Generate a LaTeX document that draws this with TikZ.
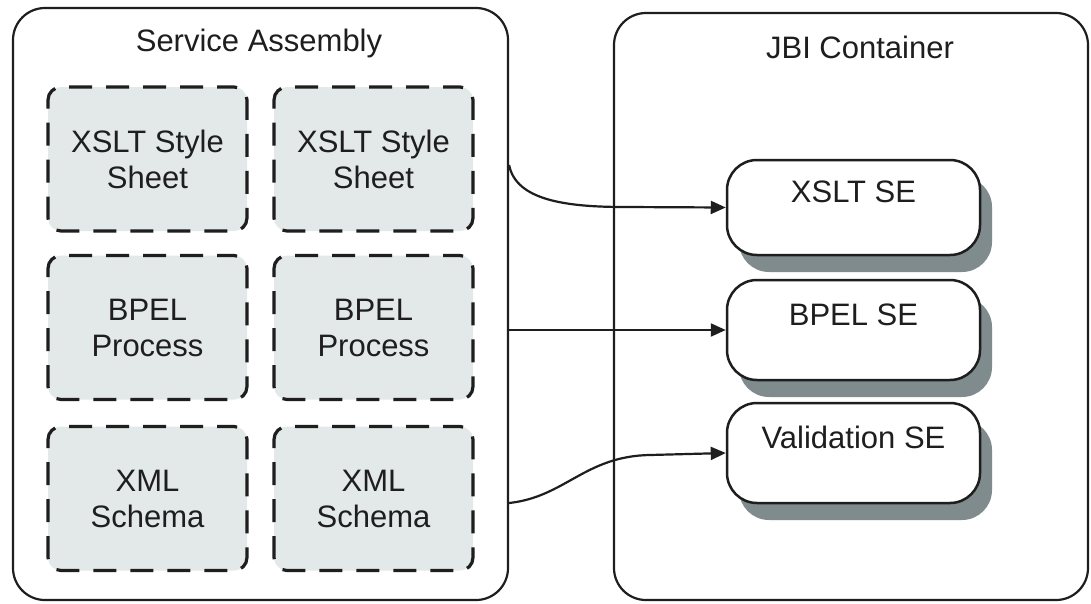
\documentclass[tikz,border=0pt]{standalone}
\usepackage{fontspec}
\setmainfont{Liberation Sans}
\usetikzlibrary{arrows.meta,shadows}
\definecolor{ink}{HTML}{1E1E1E}
\definecolor{boxfill}{HTML}{E3E8E9}
\definecolor{shadowc}{HTML}{7F8B8C}
\tikzset{
  container/.style={draw=ink, line width=2.2pt, rounded corners=32pt, fill=white},
  title/.style={font=\fontsize{31}{36}\selectfont, text=ink},
  artifact/.style={draw=ink, line width=3.2pt, dash pattern=on 23pt off 14pt, dash phase=6pt,
    rounded corners=13pt, fill=boxfill, minimum width=199pt, minimum height=144pt,
    align=center, font=\fontsize{31}{36}\selectfont, text=ink},
  engine/.style={draw=ink, line width=2.5pt, rounded corners=30pt, fill=white,
    minimum width=253pt, minimum height=98pt, text height=22pt, text depth=32pt,
    font=\fontsize{31}{36}\selectfont, text=ink,
    drop shadow={shadow xshift=12pt, shadow yshift=-17pt, fill=shadowc, opacity=1}},
  link/.style={draw=ink, line width=2.2pt, -{Triangle[length=15pt,width=13pt]}},
}
\begin{document}
\begin{tikzpicture}[x=1pt,y=-1pt]
\useasboundingbox (0,0) rectangle (1091,603);
\fill[white] (0,0) rectangle (1091,603);
% containers
\node[container, minimum width=495pt, minimum height=592pt] (sa) at (260.5,304) {};
\node[title] (satitle) at (259,43) {Service Assembly};
\node[container, minimum width=474pt, minimum height=587pt] (jbi) at (851,306.5) {};
\node[title] (jbititle) at (860,47) {JBI Container};
% service assembly artifacts
\node[artifact] (x1) at (147.5,159) {XSLT Style\\Sheet};
\node[artifact] (x2) at (373.5,159) {XSLT Style\\Sheet};
\node[artifact] (b1) at (147.5,327.5) {BPEL\\Process};
\node[artifact] (b2) at (373.5,327.5) {BPEL\\Process};
\node[artifact] (m1) at (147.5,498.5) {XML\\Schema};
\node[artifact] (m2) at (373.5,498.5) {XML\\Schema};
% service engines
\node[engine, minimum height=95pt] (xse) at (853.5,207.5) {XSLT SE};
\node[engine, minimum height=100pt] (bse) at (853.5,330) {BPEL SE};
\node[engine, minimum height=100pt] (vse) at (853.5,453) {Validation SE};
% connectors
\coordinate (s1) at (sa.east |- 0,165);
\coordinate (s2) at (sa.east |- bse.west);
\coordinate (s3) at (sa.east |- 0,503);
\draw[link] (s1) .. controls (516,200) and (565,207) .. (625,207) -- (xse.west);
\draw[link] (s2) -- (bse.west);
\draw[link] (s3) .. controls (565,497) and (585,456) .. (650,455) -- (vse.west);
\end{tikzpicture}
\end{document}
